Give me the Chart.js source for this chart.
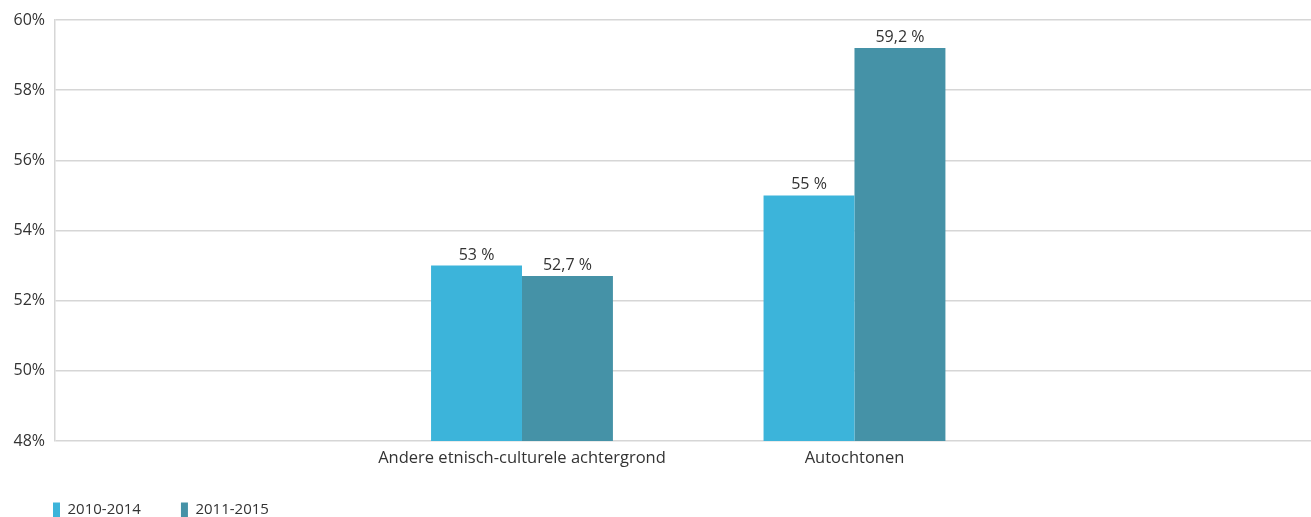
<!DOCTYPE html>
<html>
<head>
<meta charset="utf-8">
<script src="https://cdn.jsdelivr.net/npm/chart.js@4/dist/chart.umd.min.js"></script>
<style>
  html, body { margin: 0; padding: 0; background: #ffffff; }
  #wrap { width: 1311px; height: 517px; position: relative; }
</style>
</head>
<body>
<div id="wrap"><canvas id="c"></canvas></div>
<script>
// ---- Data ----
const categories = ['Andere etnisch-culturele achtergrond', 'Autochtonen'];
const seriesNames = ['2010-2014', '2011-2015'];
const values2010_2014 = [53, 55];
const values2011_2015 = [52.7, 59.2];
const yTickValues = [48, 50, 52, 54, 56, 58, 60];
const seriesColors = ['#3cb4da', '#4592a7'];

// category positions on the x axis (1, 2)
const categoryPositions = categories.map((_, i) => i + 1);
const toPoints = (vals) => categoryPositions.map((x, i) => ({ x: x, y: vals[i] }));

const formatValue = (v) => String(v).replace('.', ',') + ' %';

const FONT = "'Open Sans', 'Noto Sans', sans-serif";
const TEXT = '#333333';
const GRID = '#d6d6d6';

Chart.defaults.font.family = FONT;
Chart.defaults.font.size = 15;
Chart.defaults.color = TEXT;

const valueLabels = {
  id: 'valueLabels',
  afterDatasetsDraw(chart) {
    const ctx = chart.ctx;
    ctx.save();
    ctx.font = '16px ' + FONT;
    ctx.fillStyle = TEXT;
    ctx.textAlign = 'center';
    ctx.textBaseline = 'alphabetic';
    chart.data.datasets.forEach((ds, di) => {
      const meta = chart.getDatasetMeta(di);
      meta.data.forEach((bar, i) => {
        ctx.fillText(formatValue(ds.data[i].y), bar.x, bar.y - 6);
      });
    });
    ctx.restore();
  }
};

new Chart(document.getElementById('c'), {
  type: 'bar',
  data: {
    datasets: [
      { label: seriesNames[0], data: toPoints(values2010_2014), backgroundColor: seriesColors[0], borderWidth: 0 },
      { label: seriesNames[1], data: toPoints(values2011_2015), backgroundColor: seriesColors[1], borderWidth: 0 }
    ]
  },
  options: {
    responsive: true,
    maintainAspectRatio: false,
    animation: false,
    categoryPercentage: 0.547,
    barPercentage: 1.0,
    layout: { padding: { left: 13, top: 20, right: 0, bottom: 0 } },
    scales: {
      x: {
        type: 'linear',
        offset: false,
        min: -0.4045,
        max: 3.373,
        grid: { display: false, drawTicks: false, offset: false },
        border: { display: false },
        afterBuildTicks: (scale) => { scale.ticks = categoryPositions.map(v => ({ value: v })); },
        afterFit: (scale) => { scale.height = 28; },
        ticks: {
          padding: 7,
          color: TEXT,
          font: { size: 16.5 },
          maxRotation: 0,
          autoSkip: false,
          callback: (value, index) => categories[index]
        }
      },
      y: {
        min: 48,
        max: 60,
        grid: { color: GRID, lineWidth: 1.5, drawTicks: false },
        border: { display: true, color: GRID, width: 1.5 },
        afterBuildTicks: (scale) => { scale.ticks = yTickValues.map(v => ({ value: v })); },
        afterFit: (scale) => { scale.width = 42; },
        ticks: {
          padding: 10,
          color: TEXT,
          font: { size: 16 },
          callback: (v) => v + '%'
        }
      }
    },
    plugins: {
      legend: {
        position: 'bottom',
        align: 'start',
        maxHeight: 48,
        title: { display: true, text: '', font: { size: 1 }, padding: { top: 0, bottom: -7.7 } },
        labels: {
          boxWidth: 7,
          boxHeight: 15,
          padding: 40,
          color: TEXT,
          font: { size: 15 }
        }
      },
      tooltip: { enabled: false }
    }
  },
  plugins: [valueLabels]
});
</script>
</body>
</html>
